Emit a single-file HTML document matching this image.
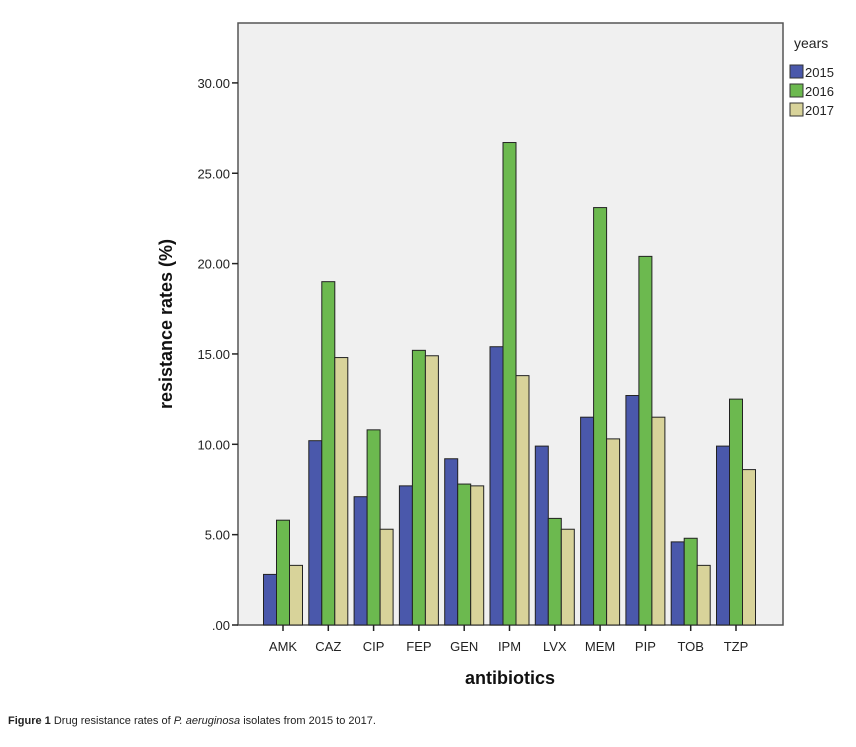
<!DOCTYPE html>
<html><head><meta charset="utf-8"><style>
body{margin:0;background:#fff;font-family:"Liberation Sans",Arial,sans-serif}
</style></head><body>
<svg width="856" height="742" xmlns="http://www.w3.org/2000/svg">
<rect x="238" y="23" width="545" height="602" fill="#f0f0f0" stroke="#555" stroke-width="1.5"/>
<g id="yaxis"></g>
<g id="bars"></g>
<g id="xaxis"></g>
<text x="172" y="324" transform="rotate(-90 172 324)" text-anchor="middle" font-size="18" font-weight="bold" fill="#111">resistance rates (%)</text>
<text x="510" y="684" text-anchor="middle" font-size="18" font-weight="bold" fill="#111">antibiotics</text>
<g id="legend">
<text x="794" y="48" font-size="14" fill="#222">years</text>
</g>
<text x="8" y="724" font-size="11" fill="#222"><tspan font-weight="bold">Figure 1</tspan> Drug resistance rates of <tspan font-style="italic">P. aeruginosa</tspan> isolates from 2015 to 2017.</text>
</svg>
<script>
const categories=["AMK","CAZ","CIP","FEP","GEN","IPM","LVX","MEM","PIP","TOB","TZP"];
const years=["2015","2016","2017"];
const s2015=[2.8,10.2,7.1,7.7,9.2,15.4,9.9,11.5,12.7,4.6,9.9];
const s2016=[5.8,19.0,10.8,15.2,7.8,26.7,5.9,23.1,20.4,4.8,12.5];
const s2017=[3.3,14.8,5.3,14.9,7.7,13.8,5.3,10.3,11.5,3.3,8.6];
const yTicks=[0,5,10,15,20,25,30];
const yTickLabels=[".00","5.00","10.00","15.00","20.00","25.00","30.00"];
const colors=["#4a58ab","#6cb94f","#d8d39a"];
const NS="http://www.w3.org/2000/svg";
const y=v=>625-v*18.07;
const x=i=>283+i*45.3;
function mk(t,a,p){const e=document.createElementNS(NS,t);for(const k in a)e.setAttribute(k,a[k]);p.appendChild(e);return e;}
const ya=document.getElementById('yaxis');
yTicks.forEach((v,i)=>{
 const l=mk('line',{x1:232,x2:238,y1:y(v),y2:y(v),stroke:'#222','stroke-width':1.5},ya);
 
 
 const t=mk('text',{x:230,y:y(v)+5,'text-anchor':'end','font-size':13,fill:'#222'},ya);
 t.textContent=yTickLabels[i];
 
 
});
const bg=document.getElementById('bars');
const series=[s2015,s2016,s2017];
const bw=13;
categories.forEach((c,i)=>{
 series.forEach((s,j)=>{
  const r=mk('rect',{x:x(i)+(j-1.5)*bw,y:y(s[i]),width:bw,height:625-y(s[i]),fill:colors[j],stroke:'#222','stroke-width':1},bg);
  
  
 });
});
const xa=document.getElementById('xaxis');
categories.forEach((c,i)=>{
 const l=mk('line',{x1:x(i),x2:x(i),y1:625,y2:631,stroke:'#222','stroke-width':1.5},xa);
 
 
 const t=mk('text',{x:x(i),y:651,'text-anchor':'middle','font-size':13,fill:'#222'},xa);
 t.textContent=c;
 
 
});
const lg=document.getElementById('legend');
years.forEach((yr,j)=>{
 const r=mk('rect',{x:790,y:65+j*19,width:13,height:13,fill:colors[j],stroke:'#333','stroke-width':1},lg);
 
 
 const t=mk('text',{x:805,y:77+j*19,'font-size':13,fill:'#222'},lg);
 t.textContent=yr;
 
 
});
</script>
</body></html>
